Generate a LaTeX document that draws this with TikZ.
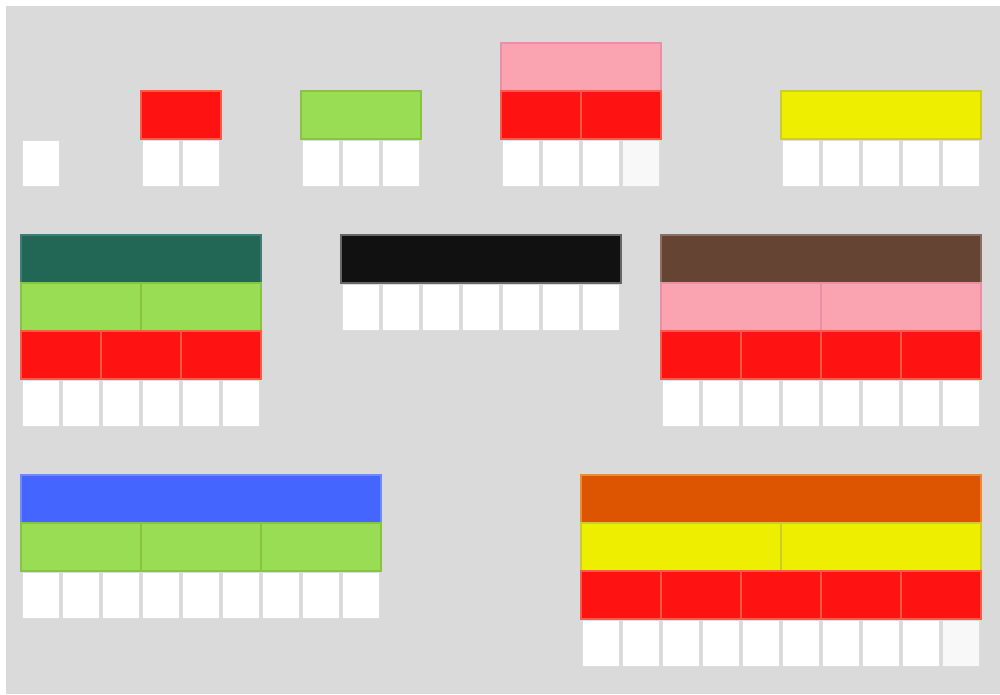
\documentclass[tikz,border=0pt]{standalone}
\usepackage{xcolor}
\usepackage{tikz}
\usetikzlibrary{positioning}
\definecolor{CuisPaper}{HTML}{DADADA}
\definecolor{CuisCellEdge}{HTML}{DDDDDD}
\definecolor{CuisOffWhite}{HTML}{F8F8F8}
\definecolor{CuisRed}{HTML}{FF1212}
\definecolor{CuisRedEdge}{HTML}{FF5A48}
\definecolor{CuisLime}{HTML}{99DD55}
\definecolor{CuisLimeEdge}{HTML}{88C442}
\definecolor{CuisPink}{HTML}{FAA3B1}
\definecolor{CuisPinkEdge}{HTML}{EC8EA8}
\definecolor{CuisYellow}{HTML}{EEEE00}
\definecolor{CuisYellowEdge}{HTML}{CCCC2A}
\definecolor{CuisTeal}{HTML}{226655}
\definecolor{CuisTealEdge}{HTML}{3F7D78}
\definecolor{CuisBlack}{HTML}{111111}
\definecolor{CuisBlackEdge}{HTML}{666666}
\definecolor{CuisBrown}{HTML}{664433}
\definecolor{CuisBrownEdge}{HTML}{8C6E62}
\definecolor{CuisBlue}{HTML}{4466FF}
\definecolor{CuisBlueEdge}{HTML}{6D8BFF}
\definecolor{CuisOrange}{HTML}{DD5500}
\definecolor{CuisOrangeEdge}{HTML}{EF8A34}

\begin{document}
\begin{tikzpicture}[x=0.02cm, y=-0.02cm,
  rod/.style={fill=Cuis#1, draw=Cuis#1Edge, line width=0.04cm,
              minimum height=0.96cm, inner sep=0pt, outer sep=0pt,
              anchor=north west},
  cell/.style={fill=#1, draw=CuisCellEdge, line width=0.03cm,
               minimum width=0.74cm, minimum height=0.92cm,
               inner sep=0pt, outer sep=0pt},
  cell/.default=white]
  \useasboundingbox (0,0) rectangle (1000,694);
  \fill[white] (0,0) rectangle (1000,694);
  \fill[CuisPaper] (6,6) rectangle (1000,694);
  % coloured rods: name/colour/length/column/row/count
  \foreach \nm/\col/\len/\k/\j/\n in {%
      r2/Red/2/3/1/1,
      g3/Lime/3/7/1/1,
      p4/Pink/4/12/0/1,
      p4r/Red/2/12/1/2,
      y5/Yellow/5/19/1/1,
      d6/Teal/6/0/4/1,
      d6g/Lime/3/0/5/2,
      d6r/Red/2/0/6/3,
      k7/Black/7/8/4/1,
      n8/Brown/8/16/4/1,
      n8p/Pink/4/16/5/2,
      n8r/Red/2/16/6/4,
      e9/Blue/9/0/9/1,
      e9g/Lime/3/0/10/3,
      o10/Orange/10/14/9/1,
      o10y/Yellow/5/14/10/2,
      o10r/Red/2/14/11/5}{
    \foreach \i in {1,...,\n}{
      \node[rod=\col, minimum width=\len*0.8cm] (\nm-\i)
        at ({21+40*(\k+(\i-1)*\len)}, {43+48*\j}) {};
    }
  }
  % unit cubes: name/column/row/count
  \foreach \nm/\k/\j/\n in {%
      w1/0/2/1, w2/3/2/2, w3/7/2/3, w4/12/2/4, w5/19/2/5,
      w6/0/7/6, w7/8/5/7, w8/16/7/8,
      w9/0/11/9, w10/14/12/10}{
    \foreach \i in {1,...,\n}{
      \node[cell] (\nm-\i) at ({41+40*(\k+\i-1)}, {67.5+48*\j}) {};
    }
  }
  % the two greyish cubes
  \node[cell=CuisOffWhite] at (w4-4) {};
  \node[cell=CuisOffWhite] at (w10-10) {};
\end{tikzpicture}
\end{document}
